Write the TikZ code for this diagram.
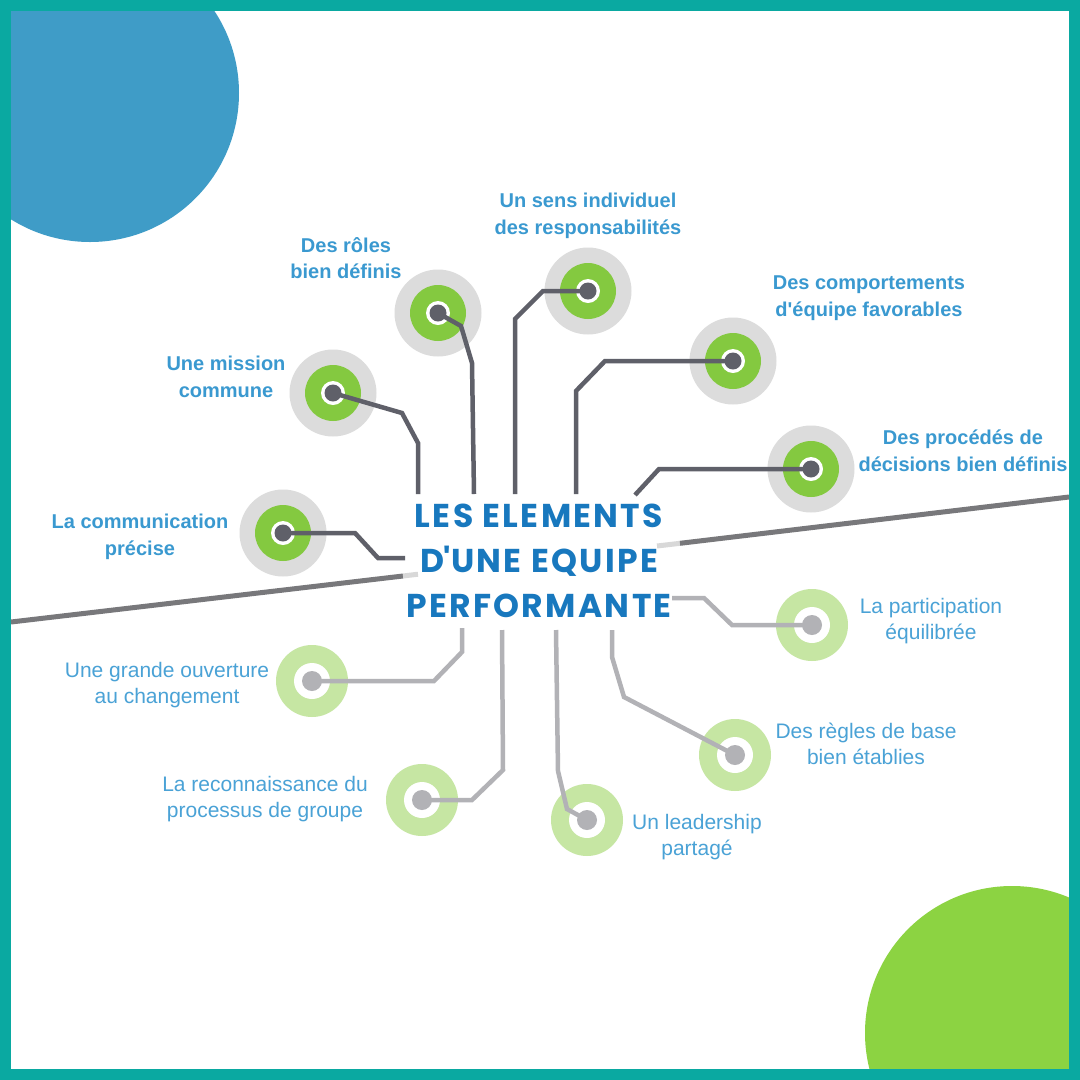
\documentclass[tikz,border=0pt]{standalone}
\usepackage{fontspec}
\setmainfont{Liberation Sans}
\newfontfamily\titlefont{Poppins}[LetterSpace=7]
\definecolor{frameteal}{HTML}{0AA9A1}
\definecolor{bigblue}{HTML}{3F9CC7}
\definecolor{biggreen}{HTML}{8CD342}
\definecolor{upgreen}{HTML}{84C940}
\definecolor{ringgray}{HTML}{DCDCDC}
\definecolor{darkdot}{HTML}{5F6069}
\definecolor{lowgreen}{HTML}{C6E6A3}
\definecolor{lowdot}{HTML}{B2B2B6}
\definecolor{sepdark}{HTML}{78787B}
\definecolor{seplight}{HTML}{D8D8D8}
\definecolor{labelblue}{HTML}{3A99D0}
\definecolor{labelblueb}{HTML}{4AA2D6}
\definecolor{titleblue}{HTML}{1878BE}
\tikzset{
  upring/.style={circle, inner sep=0pt, minimum size=87pt, fill=ringgray,
    path picture={\fill[upgreen] (path picture bounding box.center) circle (28pt);
                  \fill[white] (path picture bounding box.center) circle (12pt);}},
  lowring/.style={circle, inner sep=0pt, minimum size=72pt, fill=lowgreen,
    path picture={\fill[white] (path picture bounding box.center) circle (18pt);}},
  updotst/.style={circle, inner sep=0pt, minimum size=17pt, fill=darkdot},
  lowdotst/.style={circle, inner sep=0pt, minimum size=20pt, fill=lowdot},
  upline/.style={draw=darkdot, line width=4.5pt},
  lowline/.style={draw=lowdot, line width=4.5pt},
  sepline/.style={line width=5pt},
  uplabel/.style={font=\bfseries\fontsize{20}{26.5}\selectfont, text=labelblue, align=center, inner sep=0pt},
  lowlabel/.style={font=\fontsize{21}{26.5}\selectfont, text=labelblueb, align=center, inner sep=0pt},
  titlest/.style={font=\titlefont\bfseries\fontsize{33}{45}\selectfont, text=titleblue, align=center, inner sep=0pt}
}
\begin{document}
\begin{tikzpicture}[x=1pt,y=-1pt]
\useasboundingbox (0,0) rectangle (1080,1080);
\fill[white] (0,0) rectangle (1080,1080);
\begin{scope}
  \clip (11,11) rectangle (1069,1069);
  \fill[bigblue] (90,93) circle (149pt);
  \fill[biggreen] (1012,1033) circle (147pt);
\end{scope}
\draw[frameteal, line width=11pt] (5.5,5.5) rectangle (1074.5,1074.5);

% separator line
\draw[sepline, sepdark] (11,622) -- (403,576);
\draw[sepline, seplight] (403,576) -- (418,574.2);
\draw[sepline, seplight] (657,546) -- (680,543.3);
\draw[sepline, sepdark] (680,543.3) -- (1069,497);

% rings
\node[upring] (a1) at (283,533) {};
\node[upring] (a2) at (333,393) {};
\node[upring] (a3) at (438,313) {};
\node[upring] (a4) at (588,291) {};
\node[upring] (a5) at (733,361) {};
\node[upring] (a6) at (811,469) {};
\node[lowring] (b1) at (812,625) {};
\node[lowring] (b2) at (735,755) {};
\node[lowring] (b3) at (587,820) {};
\node[lowring] (b4) at (422,800) {};
\node[lowring] (b5) at (312,681) {};

% title
\node[titlest] (title) at (539,561) {LES ELEMENTS\\D\textquotesingle UNE EQUIPE\\PERFORMANTE};

% connector ends at the title
\coordinate (e1) at (405,558);
\coordinate (e2) at (418,494);
\coordinate (e3) at (474,494);
\coordinate (e4) at (515,494);
\coordinate (e5) at (576,494);
\coordinate (e6) at (635,495);
\coordinate (f1) at (672,598);
\coordinate (f2) at (612,630);
\coordinate (f3) at (556,630);
\coordinate (f4) at (502,630);
\coordinate (f5) at (462,628);

% connectors
\draw[upline] (a1.center) -- (355,533) -- (378,558) -- (e1);
\draw[upline] (a2.center) -- (402,413) -- (418,443) -- (e2);
\draw[upline] (a3.center) -- (461,326) -- (472,363) -- (e3);
\draw[upline] (a4.center) -- (543,291) -- (515,319) -- (e4);
\draw[upline] (a5.center) -- (605,361) -- (576,391) -- (e5);
\draw[upline] (a6.center) -- (659,469) -- (e6);
\draw[lowline] (b1.center) -- (732,625) -- (704,598) -- (f1);
\draw[lowline] (b2.center) -- (624,697) -- (612,657) -- (f2);
\draw[lowline] (b3.center) -- (567,809) -- (558,771) -- (f3);
\draw[lowline] (b4.center) -- (472,800) -- (503,770) -- (f4);
\draw[lowline] (b5.center) -- (434,681) -- (462,652) -- (f5);

% dots
\foreach \n in {a1,a2,a3,a4,a5,a6} \node[updotst] at (\n.center) {};
\foreach \n in {b1,b2,b3,b4,b5} \node[lowdotst] at (\n.center) {};

% labels
\node[uplabel] (l1) at (140,537) {La communication\\précise};
\node[uplabel] (l2) at (226,377) {Une mission\\commune};
\node[uplabel] (l3) at (346,258) {Des rôles\\bien définis};
\node[uplabel] (l4) at (588,216) {Un sens individuel\\des responsabilités};
\node[uplabel] (l5) at (869,298) {Des comportements\\d\textquotesingle équipe favorables};
\node[uplabel] (l6) at (963,451) {Des procédés de\\décisions bien définis};
\node[lowlabel] (m1) at (931,621) {La participation\\équilibrée};
\node[lowlabel] (m2) at (866,744) {Des règles de base\\bien établies};
\node[lowlabel] (m3) at (697,837) {Un leadership\\partagé};
\node[lowlabel] (m4) at (265,799) {La reconnaissance du\\processus de groupe};
\node[lowlabel] (m5) at (167,685) {Une grande ouverture\\au changement};
\end{tikzpicture}
\end{document}
